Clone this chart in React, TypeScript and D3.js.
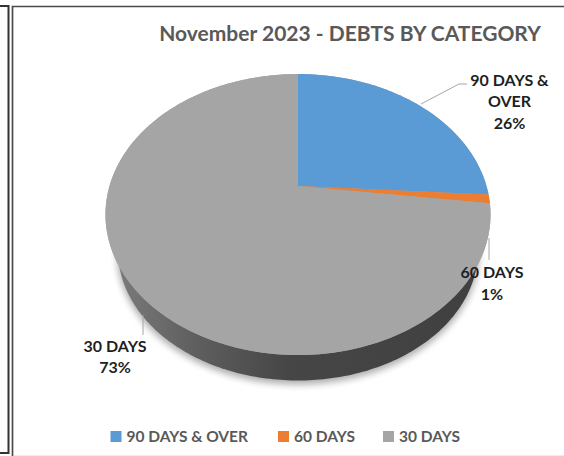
import React from "react";
import * as d3 from "d3";

const categories = ["90 DAYS & OVER", "60 DAYS", "30 DAYS"];
const shares = [26, 1, 73];
const sliceColors = ["#5b9bd5", "#ed7d31", "#a5a5a5"];
const titleText = "November 2023 - DEBTS BY CATEGORY";

const W = 564;
const H = 456;
const FONT = "Lato, 'Open Sans', sans-serif";

// Tilted disc: a unit circle seen in perspective, so the apex sits above the ellipse centre.
const apexX = 298;
const apexY = 186;
const spanX = 188.5;
const spanY = 134.7;
const tilt = 0.203;

// Underside of the pie: a smaller, lower ellipse whose visible part forms the wall.
const baseCy = 250.5;
const baseRx = 180;
const baseRy = 130;

function project(angle: number): [number, number] {
  const u = Math.sin(angle);
  const v = Math.cos(angle);
  const w = 1 + tilt * v;
  return [apexX + (spanX * u) / w, apexY - (spanY * v) / w];
}

function rim(a0: number, a1: number): [number, number][] {
  const n = Math.max(2, Math.ceil(Math.abs(a1 - a0) / 0.02));
  return d3.range(n + 1).map((i) => project(a0 + ((a1 - a0) * i) / n));
}

function baseRim(drop = 0, grow = 0): [number, number][] {
  return d3.range(0, 2 * Math.PI, 0.02).map((t) => [
    apexX + (baseRx + grow) * Math.sin(t),
    baseCy + drop - (baseRy + grow) * Math.cos(t),
  ]);
}

const toPath = d3.line();

export default function App() {
  const arcs = d3.pie<number>().sort(null)(shares);
  const fullRim = rim(0, 2 * Math.PI);

  const legendX = d3.scaleOrdinal<string, number>().domain(categories).range([110.5, 278, 383]);

  return (
    <svg
      width={W}
      height={H}
      viewBox={`0 0 ${W} ${H}`}
      style={{ position: "fixed", left: 0, top: 0, background: "#fff" }}
      fontFamily={FONT}
    >
      <defs>
        <linearGradient id="wallShade" gradientUnits="userSpaceOnUse" x1={118} x2={480} y1={0} y2={0}>
          <stop offset="0" stopColor="#7a7a7a" />
          <stop offset="0.22" stopColor="#5e5e5e" />
          <stop offset="0.47" stopColor="#464646" />
          <stop offset="1" stopColor="#404040" />
        </linearGradient>
        <filter id="softShadow" x="-10%" y="-10%" width="120%" height="120%">
          <feGaussianBlur stdDeviation="3.5" />
        </filter>
      </defs>

      <g fill="none">
        <path d="M0,6H8.5V453H0" stroke="#333333" strokeWidth={2} />
        <path d="M12.5,456V6.5H564" stroke="#4a4a4a" strokeWidth={1.7} />
        <path d="M14,455.5H564" stroke="#ececec" strokeWidth={1} />
      </g>

      <path d={toPath(baseRim(3, 1))! + "Z"} fill="#000" opacity={0.32} filter="url(#softShadow)" />
      <path d={toPath(baseRim())! + "Z"} fill="url(#wallShade)" />
      <path d={toPath(fullRim)! + "Z"} fill={sliceColors[2]} />
      {arcs.map((a, i) => (
        <path
          key={categories[i]}
          d={toPath([[apexX, apexY], ...rim(a.startAngle, a.endAngle)])! + "Z"}
          fill={sliceColors[i]}
        />
      ))}

      <g fill="none" stroke="#a6a6a6" strokeWidth={1}>
        <polyline points="421,104 459,84 467,84" />
        <polyline points="489,238 489,260" />
        <polyline points="143,315 143,335" />
      </g>

      <text x={350} y={41} textAnchor="middle" fontSize={21} fontWeight={700} fill="#595959">
        {titleText}
      </text>

      <g fontSize={16} fontWeight={700} fill="#1f1f1f" textAnchor="middle">
        <text x={509.5} y={86}>90 DAYS &amp;</text>
        <text x={509.5} y={107}>OVER</text>
        <text x={509.5} y={129}>26%</text>
        <text x={492} y={278}>60 DAYS</text>
        <text x={492} y={300}>1%</text>
        <text x={115} y={352}>30 DAYS</text>
        <text x={115} y={373}>73%</text>
      </g>

      {categories.map((c, i) => (
        <g key={c}>
          <rect x={legendX(c)} y={431} width={11} height={11} fill={sliceColors[i]} />
          <text x={legendX(c)! + 16} y={442} fontSize={15.5} fontWeight={700} fill="#595959">
            {c}
          </text>
        </g>
      ))}
    </svg>
  );
}
